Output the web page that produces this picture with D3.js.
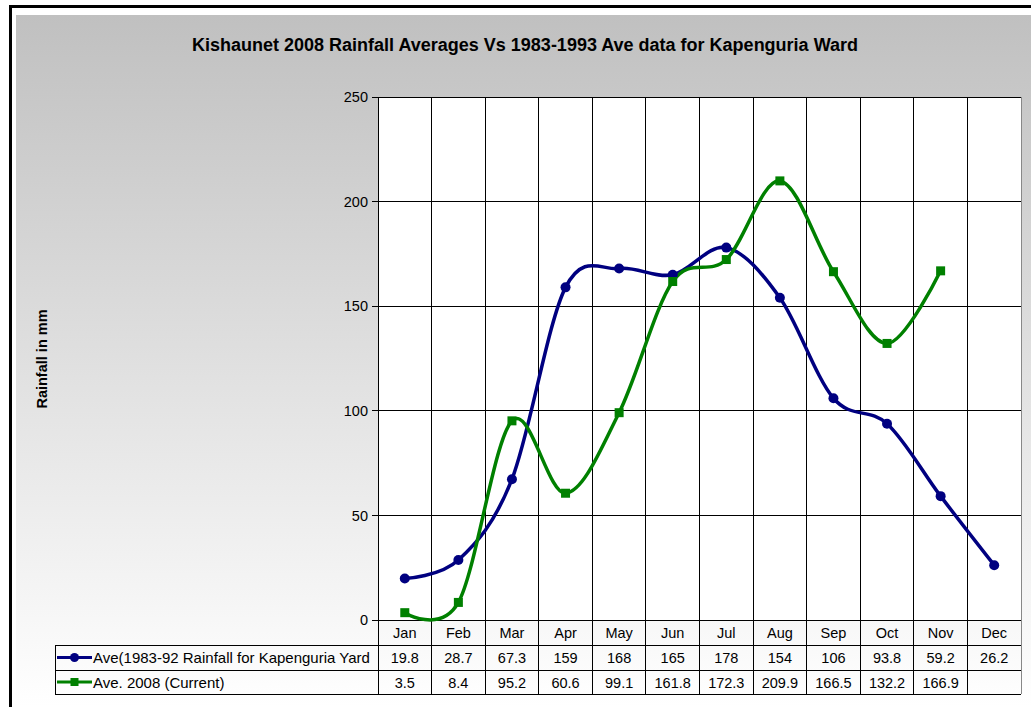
<!DOCTYPE html>
<html><head><meta charset="utf-8">
<script src="https://cdn.jsdelivr.net/npm/d3@7"></script>
<style>body{margin:0;background:#fff;} svg{display:block;font-family:"Liberation Sans",Arial,sans-serif;}</style>
</head><body>
<script>
const months = ["Jan","Feb","Mar","Apr","May","Jun","Jul","Aug","Sep","Oct","Nov","Dec"];
const aveHist = [19.8,28.7,67.3,159,168,165,178,154,106,93.8,59.2,26.2];
const ave2008 = [3.5,8.4,95.2,60.6,99.1,161.8,172.3,209.9,166.5,132.2,166.9,null];
const histLabels = ["19.8","28.7","67.3","159","168","165","178","154","106","93.8","59.2","26.2"];
const curLabels = ["3.5","8.4","95.2","60.6","99.1","161.8","172.3","209.9","166.5","132.2","166.9",""];
const yTicks = [0,50,100,150,200,250];
const seriesNames = ["Ave(1983-92 Rainfall for Kapenguria Yard","Ave. 2008 (Current)"];
const title = "Kishaunet 2008 Rainfall Averages Vs 1983-1993 Ave data for Kapenguria Ward";

const W=1031,H=707;
const svg=d3.select("body").append("svg").attr("width",W).attr("height",H);
const defs=svg.append("defs");
const g=defs.append("linearGradient").attr("id","bg").attr("x1",0).attr("y1",0).attr("x2",0).attr("y2",1);
g.append("stop").attr("offset","0%").attr("stop-color","#c0c0c0");
g.append("stop").attr("offset","100%").attr("stop-color","#ffffff");

// outer border
svg.append("rect").attr("x",10.5).attr("y",6.5).attr("width",W+10).attr("height",H+10).attr("fill","#fff").attr("stroke","#000").attr("stroke-width",3);
svg.append("rect").attr("x",16).attr("y",15).attr("width",W-16).attr("height",H-15).attr("fill","url(#bg)");

const L=378,R=1021,T=97,B=620;
const x=d3.scaleBand().domain(months).range([L,R]);
const y=d3.scaleLinear().domain([0,250]).range([B,T]);

svg.append("rect").attr("x",L).attr("y",T).attr("width",R-L).attr("height",B-T).attr("fill","#fff");

// title
svg.append("text").attr("x",525).attr("y",51).attr("text-anchor","middle").attr("font-weight","bold").attr("font-size",18).text(title);
// y label
svg.append("text").attr("transform","translate(47,359) rotate(-90)").attr("text-anchor","middle").attr("font-weight","bold").attr("font-size",14.5).text("Rainfall in mm");

// grid
const grid=svg.append("g").attr("stroke","#000").attr("stroke-width",1).attr("shape-rendering","crispEdges");
yTicks.forEach(t=>grid.append("line").attr("x1",L-6).attr("x2",R).attr("y1",y(t)).attr("y2",y(t)));
months.forEach(m=>grid.append("line").attr("x1",x(m)).attr("x2",x(m)).attr("y1",T).attr("y2",694));
grid.append("line").attr("x1",R).attr("x2",R).attr("y1",T).attr("y2",694).attr("stroke","#888");
grid.append("line").attr("x1",L).attr("x2",L).attr("y1",T).attr("y2",694);

// y axis tick labels via d3 axis
const yAxis=svg.append("g").attr("transform",`translate(${L},0)`).call(d3.axisLeft(y).tickValues(yTicks).tickSize(6).tickFormat(d3.format("d")));
yAxis.select(".domain").remove();
yAxis.selectAll("line").remove();
yAxis.selectAll("text").attr("font-size",14.5).attr("font-family","Liberation Sans, Arial").attr("fill","#000").attr("x",-10);

// table
const rows=[645,670,694];
const tg=svg.append("g").attr("stroke","#000").attr("stroke-width",1).attr("shape-rendering","crispEdges");
rows.forEach(r=>tg.append("line").attr("x1",55).attr("x2",R).attr("y1",r).attr("y2",r));
tg.append("line").attr("x1",55).attr("x2",55).attr("y1",645).attr("y2",694);

const fs=14.5;
const cx=m=>x(m)+x.bandwidth()/2;
svg.append("g").selectAll("text").data(months).join("text").attr("x",cx).attr("y",638).attr("text-anchor","middle").attr("font-size",fs).text(d=>d);
svg.append("g").selectAll("text").data(histLabels).join("text").attr("x",(d,i)=>cx(months[i])).attr("y",663).attr("text-anchor","middle").attr("font-size",fs).text(d=>d);
svg.append("g").selectAll("text").data(curLabels).join("text").attr("x",(d,i)=>cx(months[i])).attr("y",688).attr("text-anchor","middle").attr("font-size",fs).text(d=>d);

// legend keys
const colors=["#000080","#008000"];
[657.5,682].forEach((yy,i)=>{
  svg.append("line").attr("x1",57).attr("x2",92).attr("y1",yy).attr("y2",yy).attr("stroke",colors[i]).attr("stroke-width",3);
  if(i===0) svg.append("circle").attr("cx",74.5).attr("cy",yy).attr("r",4.5).attr("fill",colors[i]);
  else svg.append("rect").attr("x",70.5).attr("y",yy-4).attr("width",8).attr("height",8).attr("fill",colors[i]);
  svg.append("text").attr("x",93).attr("y",yy+5.5).attr("font-size",15).text(seriesNames[i]);
});

// lines
const line=d3.line().defined(d=>d[1]!=null).x(d=>cx(d[0])).y(d=>y(d[1])).curve(d3.curveCardinal.tension(0));
const d1=months.map((m,i)=>[m,aveHist[i]]);
const d2=months.map((m,i)=>[m,ave2008[i]]).filter(d=>d[1]!=null);
svg.append("path").attr("d",line(d1)).attr("fill","none").attr("stroke",colors[0]).attr("stroke-width",3.5);
svg.append("path").attr("d",line(d2)).attr("fill","none").attr("stroke",colors[1]).attr("stroke-width",3.5);
svg.append("g").selectAll("circle").data(d1).join("circle").attr("cx",d=>cx(d[0])).attr("cy",d=>y(d[1])).attr("r",5).attr("fill",colors[0]);
svg.append("g").selectAll("rect").data(d2).join("rect").attr("x",d=>cx(d[0])-4.5).attr("y",d=>y(d[1])-4.5).attr("width",9).attr("height",9).attr("fill",colors[1]);
</script>
</body></html>
